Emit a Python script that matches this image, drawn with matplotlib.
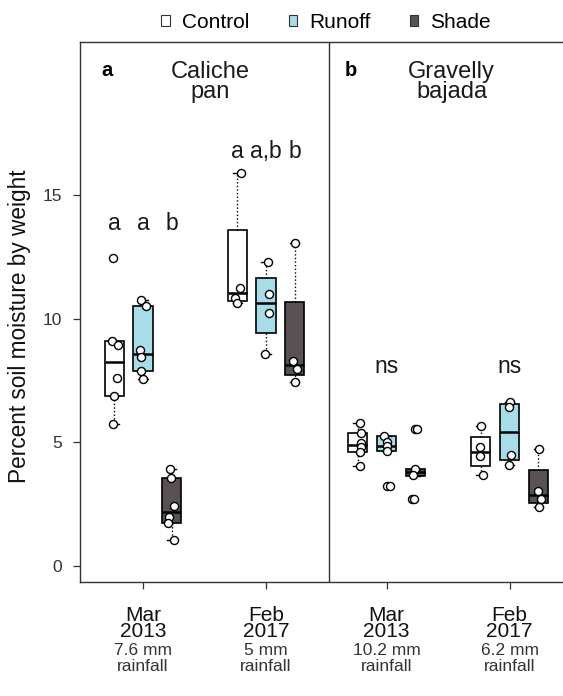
import matplotlib
matplotlib.use("Agg")
import matplotlib.pyplot as plt
from matplotlib.patches import Patch
from matplotlib.transforms import blended_transform_factory

plt.rcParams['font.family'] = ['Liberation Sans', 'DejaVu Sans']

# categories
treatments = ["Control", "Runoff", "Shade"]
colors = ["white", "#a7dce8", "#5a5155"]
months = ["Mar", "Feb", "Mar", "Feb"]
years = ["2013", "2017", "2013", "2017"]
rainfall = ["7.6 mm", "5 mm", "10.2 mm", "6.2 mm"]

# box stats, order: group 1..4, each Control / Runoff / Shade
whislo = [5.74, 7.56, 1.05, 10.63, 8.57, 7.45, 4.05, 4.66, 3.66, 3.68, 4.09, 2.38]
q1 = [6.90, 7.89, 1.73, 10.74, 9.42, 7.72, 4.63, 4.66, 3.66, 4.06, 4.29, 2.56]
med = [8.27, 8.60, 2.20, 11.05, 10.63, 8.15, 4.90, 4.86, 3.82, 4.62, 5.44, 2.87]
q3 = [9.12, 10.53, 3.55, 13.60, 11.66, 10.70, 5.40, 5.26, 3.93, 5.24, 6.55, 3.89]
whishi = [9.12, 10.77, 3.91, 15.92, 12.31, 13.09, 5.78, 5.26, 3.93, 5.67, 6.65, 4.72]

# individual measurements
points = [
    [12.48, 9.12, 8.95, 7.60, 6.90, 5.74],
    [10.77, 10.53, 8.74, 8.45, 7.89, 7.56],
    [3.91, 3.55, 2.44, 1.97, 1.73, 1.05],
    [15.92, 11.27, 10.84, 10.63],
    [12.31, 11.00, 10.26, 8.57],
    [13.09, 8.31, 7.99, 7.45],
    [5.78, 5.40, 4.97, 4.83, 4.63, 4.05],
    [5.26, 5.00, 4.86, 4.66, 3.24, 3.24],
    [5.53, 5.53, 3.93, 3.70, 2.70, 2.70],
    [5.67, 4.83, 4.45, 3.68],
    [6.65, 6.42, 4.49, 4.09],
    [4.72, 3.05, 2.70, 2.38],
]
# horizontal jitter of the points, in pixels
jitter_px = [
    [-1, -2, 4, 3, 0, -1],
    [-2, 3, -3, -2, -2, 0],
    [-2, -1, 2, -3, -4, 2],
    [3.5, 2.5, -2.5, 0],
    [1.5, 2.5, 3, -1],
    [0, -2, 2, 0],
    [2, 3, 3, 3, 2, 2],
    [-3, 0, 0, 0, 0, 3],
    [0, 2, 0, -2, -3, -1],
    [0, -1, -1, 2],
    [0, -1, 1, -1],
    [0.5, 0, 3, 0.5],
]

sig_letters = [["a", "a", "b"], ["a", "a,b", "b"], ["ns"], ["ns"]]
sig_height = [13.6, 16.5, 7.8, 7.8]

group_x = [1, 2, 2.98, 3.98]
offset = 0.233
px = 1 / 123.0

fig = plt.figure(figsize=(5.63, 6.96), dpi=100)
ax = fig.add_axes([80 / 563, 1 - 582 / 696, 483 / 563, 540 / 696])

positions = []
for g in group_x:
    for k in range(3):
        positions.append(g + (k - 1) * offset)

stats = []
for i in range(12):
    stats.append(dict(whislo=whislo[i], q1=q1[i], med=med[i], q3=q3[i],
                      whishi=whishi[i], fliers=[]))

bp = ax.bxp(stats, positions=positions, widths=0.155, patch_artist=True,
            showfliers=False, capwidths=0.075, manage_ticks=False,
            boxprops=dict(edgecolor="black", linewidth=1.2),
            medianprops=dict(color="black", linewidth=1.8),
            whiskerprops=dict(color="black", linewidth=1.0, linestyle=(0, (1, 1.6))),
            capprops=dict(color="black", linewidth=1.0))
for i, box in enumerate(bp["boxes"]):
    box.set_facecolor(colors[i % 3])

for i in range(12):
    xs = [positions[i] + d * px for d in jitter_px[i]]
    ax.plot(xs, points[i], "o", mfc="white", mec="black", ms=5.8, mew=1.0,
            zorder=4, clip_on=False)

# significance letters
for gi, g in enumerate(group_x):
    labs = sig_letters[gi]
    if len(labs) == 3:
        for k, lab in enumerate(labs):
            ax.text(g + (k - 1) * offset, sig_height[gi], lab, ha="center",
                    va="baseline", fontsize=16.5, color="#1a1a1a")
    else:
        ax.text(g, sig_height[gi], labs[0], ha="center", va="baseline",
                fontsize=16.5, color="#1a1a1a")

# panel titles (baseline of the second line)
ax.text(0.66, 19.85, "a", fontweight="bold", fontsize=14.5, va="baseline", ha="left")
ax.text(1.545, 18.95, "Caliche\npan", fontsize=17, ha="center", va="baseline",
        linespacing=0.85, color="#1a1a1a")
ax.text(2.64, 19.85, "b", fontweight="bold", fontsize=14.5, va="baseline", ha="left")
ax.text(3.51, 18.95, "Gravelly\nbajada", fontsize=17, ha="center", va="baseline",
        linespacing=0.85, color="#1a1a1a")

ax.axvline(2.512, color="#333333", linewidth=1.0)

ax.set_xlim(0.4878, 4.4146)
ax.set_ylim(-0.648, 21.21)
ax.set_yticks([0, 5, 10, 15])
ax.set_yticklabels(["0", "5", "10", "15"], fontsize=12.5, color="#333333")
ax.set_xticks(group_x)
ax.set_xticklabels([])
ax.tick_params(axis="both", direction="out", length=5, width=0.9, color="#333333")
ax.tick_params(axis="y", pad=8)
ax.spines["right"].set_visible(False)
for s in ["left", "bottom", "top"]:
    ax.spines[s].set_color("#333333")
    ax.spines[s].set_linewidth(1.0)

# x labels: date block and rainfall block (baseline of last line)
tr = blended_transform_factory(ax.transData, fig.transFigure)
for gi, g in enumerate(group_x):
    ax.text(g, 1 - 637 / 696, months[gi] + "\n" + years[gi], transform=tr,
            ha="center", va="baseline", fontsize=15, linespacing=0.78,
            color="#111111")
    ax.text(g, 1 - 671 / 696, rainfall[gi] + "\nrainfall", transform=tr,
            ha="center", va="baseline", fontsize=12.5, linespacing=1.08,
            color="#333333")

fig.text(20 / 563, 1 - 326 / 696, "Percent soil moisture by weight", rotation=90,
         ha="center", va="center", fontsize=16.3, color="#111111")

handles = [Patch(facecolor=colors[i], edgecolor="#333333", linewidth=0.8)
           for i in range(3)]
fig.legend(handles, treatments, loc="center", bbox_to_anchor=(0.579, 0.968), ncol=3,
           frameon=False, fontsize=15, handlelength=0.42, handleheight=0.42,
           handletextpad=0.55, columnspacing=1.9, borderpad=0)

fig.savefig("out.png", dpi=100)
